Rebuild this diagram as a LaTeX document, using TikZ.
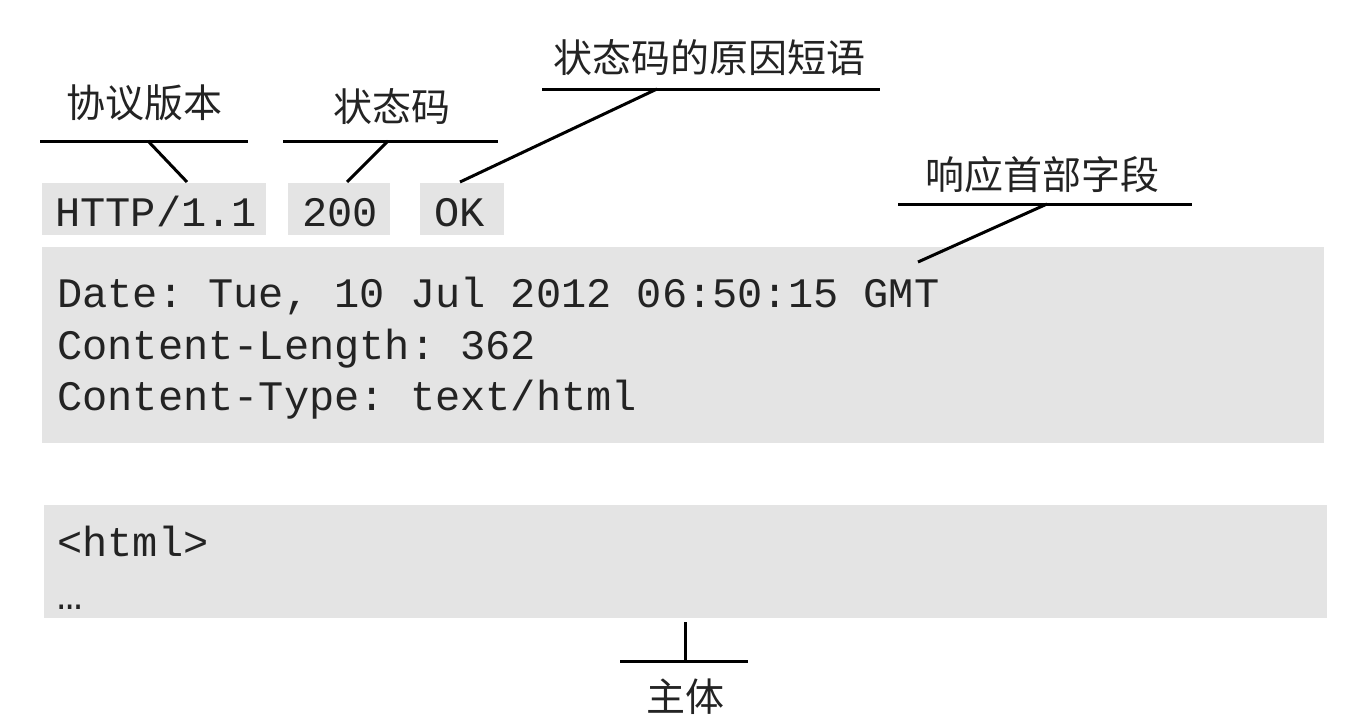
\documentclass[tikz,border=0pt]{standalone}
\usepackage{fontspec}
\setmonofont{Liberation Mono}
\newfontfamily\cjk{Noto Sans CJK SC}
\definecolor{boxgray}{RGB}{228,228,228}
\definecolor{txt}{RGB}{35,35,35}
\begin{document}
\begin{tikzpicture}[x=1pt,y=-1pt,
  box/.style={fill=boxgray, draw=none, inner sep=0pt, anchor=north west},
  code/.style={font=\fontsize{42}{50}\selectfont\ttfamily, text=txt, inner sep=0pt, anchor=base west},
  lab/.style={font=\fontsize{39}{46}\selectfont\cjk, text=txt, inner sep=0pt},
  lead/.style={line width=3pt, black}]
\useasboundingbox (0,0) rectangle (1368,726);
% gray boxes
\node[box, minimum width=224pt, minimum height=52pt] (bv) at (42,183) {};
\node[box, minimum width=102pt, minimum height=52pt] (bs) at (288,183) {};
\node[box, minimum width=84pt, minimum height=52pt] (bo) at (420,183) {};
\node[box, minimum width=1282pt, minimum height=196pt] (bh) at (42,247) {};
\node[box, minimum width=1283pt, minimum height=113pt] (bb) at (44,505) {};
% code text
\node[code] (tv) at (55,226) {HTTP/1.1};
\node[code] (ts) at (302,226) {200};
\node[code] (to) at (434,226) {OK};
\node[code] (h1) at (57,307) {Date: Tue, 10 Jul 2012 06:50:15 GMT};
\node[code] (h2) at (57,359) {Content-Length: 362};
\node[code] (h3) at (57,410) {Content-Type: text/html};
\node[code] (b1) at (57,556) {<html>};
\node[code] (b2) at (57,609) {…};
% labels
\node[lab] (lv) at (144,103) {协议版本};
\node[lab] (ls) at (392,107) {状态码};
\node[lab] (lo) at (709,58) {状态码的原因短语};
\node[lab] (lh) at (1042,175) {响应首部字段};
\node[lab] (lb) at (685,697) {主体};
% leader lines
\coordinate (v1) at (40,141); \coordinate (v2) at (248,141);
\coordinate (vm) at (148,141); \coordinate (vt) at (187,182);
\coordinate (s1) at (283,141); \coordinate (s2) at (498,141);
\coordinate (sm) at (388,141); \coordinate (st) at (347,182);
\coordinate (o1) at (542,89); \coordinate (o2) at (880,89);
\coordinate (om) at (657,89); \coordinate (ot) at (460,182);
\coordinate (h1a) at (898,204); \coordinate (h2a) at (1192,204);
\coordinate (hm) at (1047,204); \coordinate (ht) at (918,262);
\coordinate (k1) at (620,661); \coordinate (k2) at (748,661);
\coordinate (km) at (685,661); \coordinate (kt) at (685,622);
\draw[lead] (v1) -- (v2); \draw[lead] (vm) -- (vt);
\draw[lead] (s1) -- (s2); \draw[lead] (sm) -- (st);
\draw[lead] (o1) -- (o2); \draw[lead] (om) -- (ot);
\draw[lead] (h1a) -- (h2a); \draw[lead] (hm) -- (ht);
\draw[lead] (k1) -- (k2); \draw[lead] (km) -- (kt);
\end{tikzpicture}
\end{document}
